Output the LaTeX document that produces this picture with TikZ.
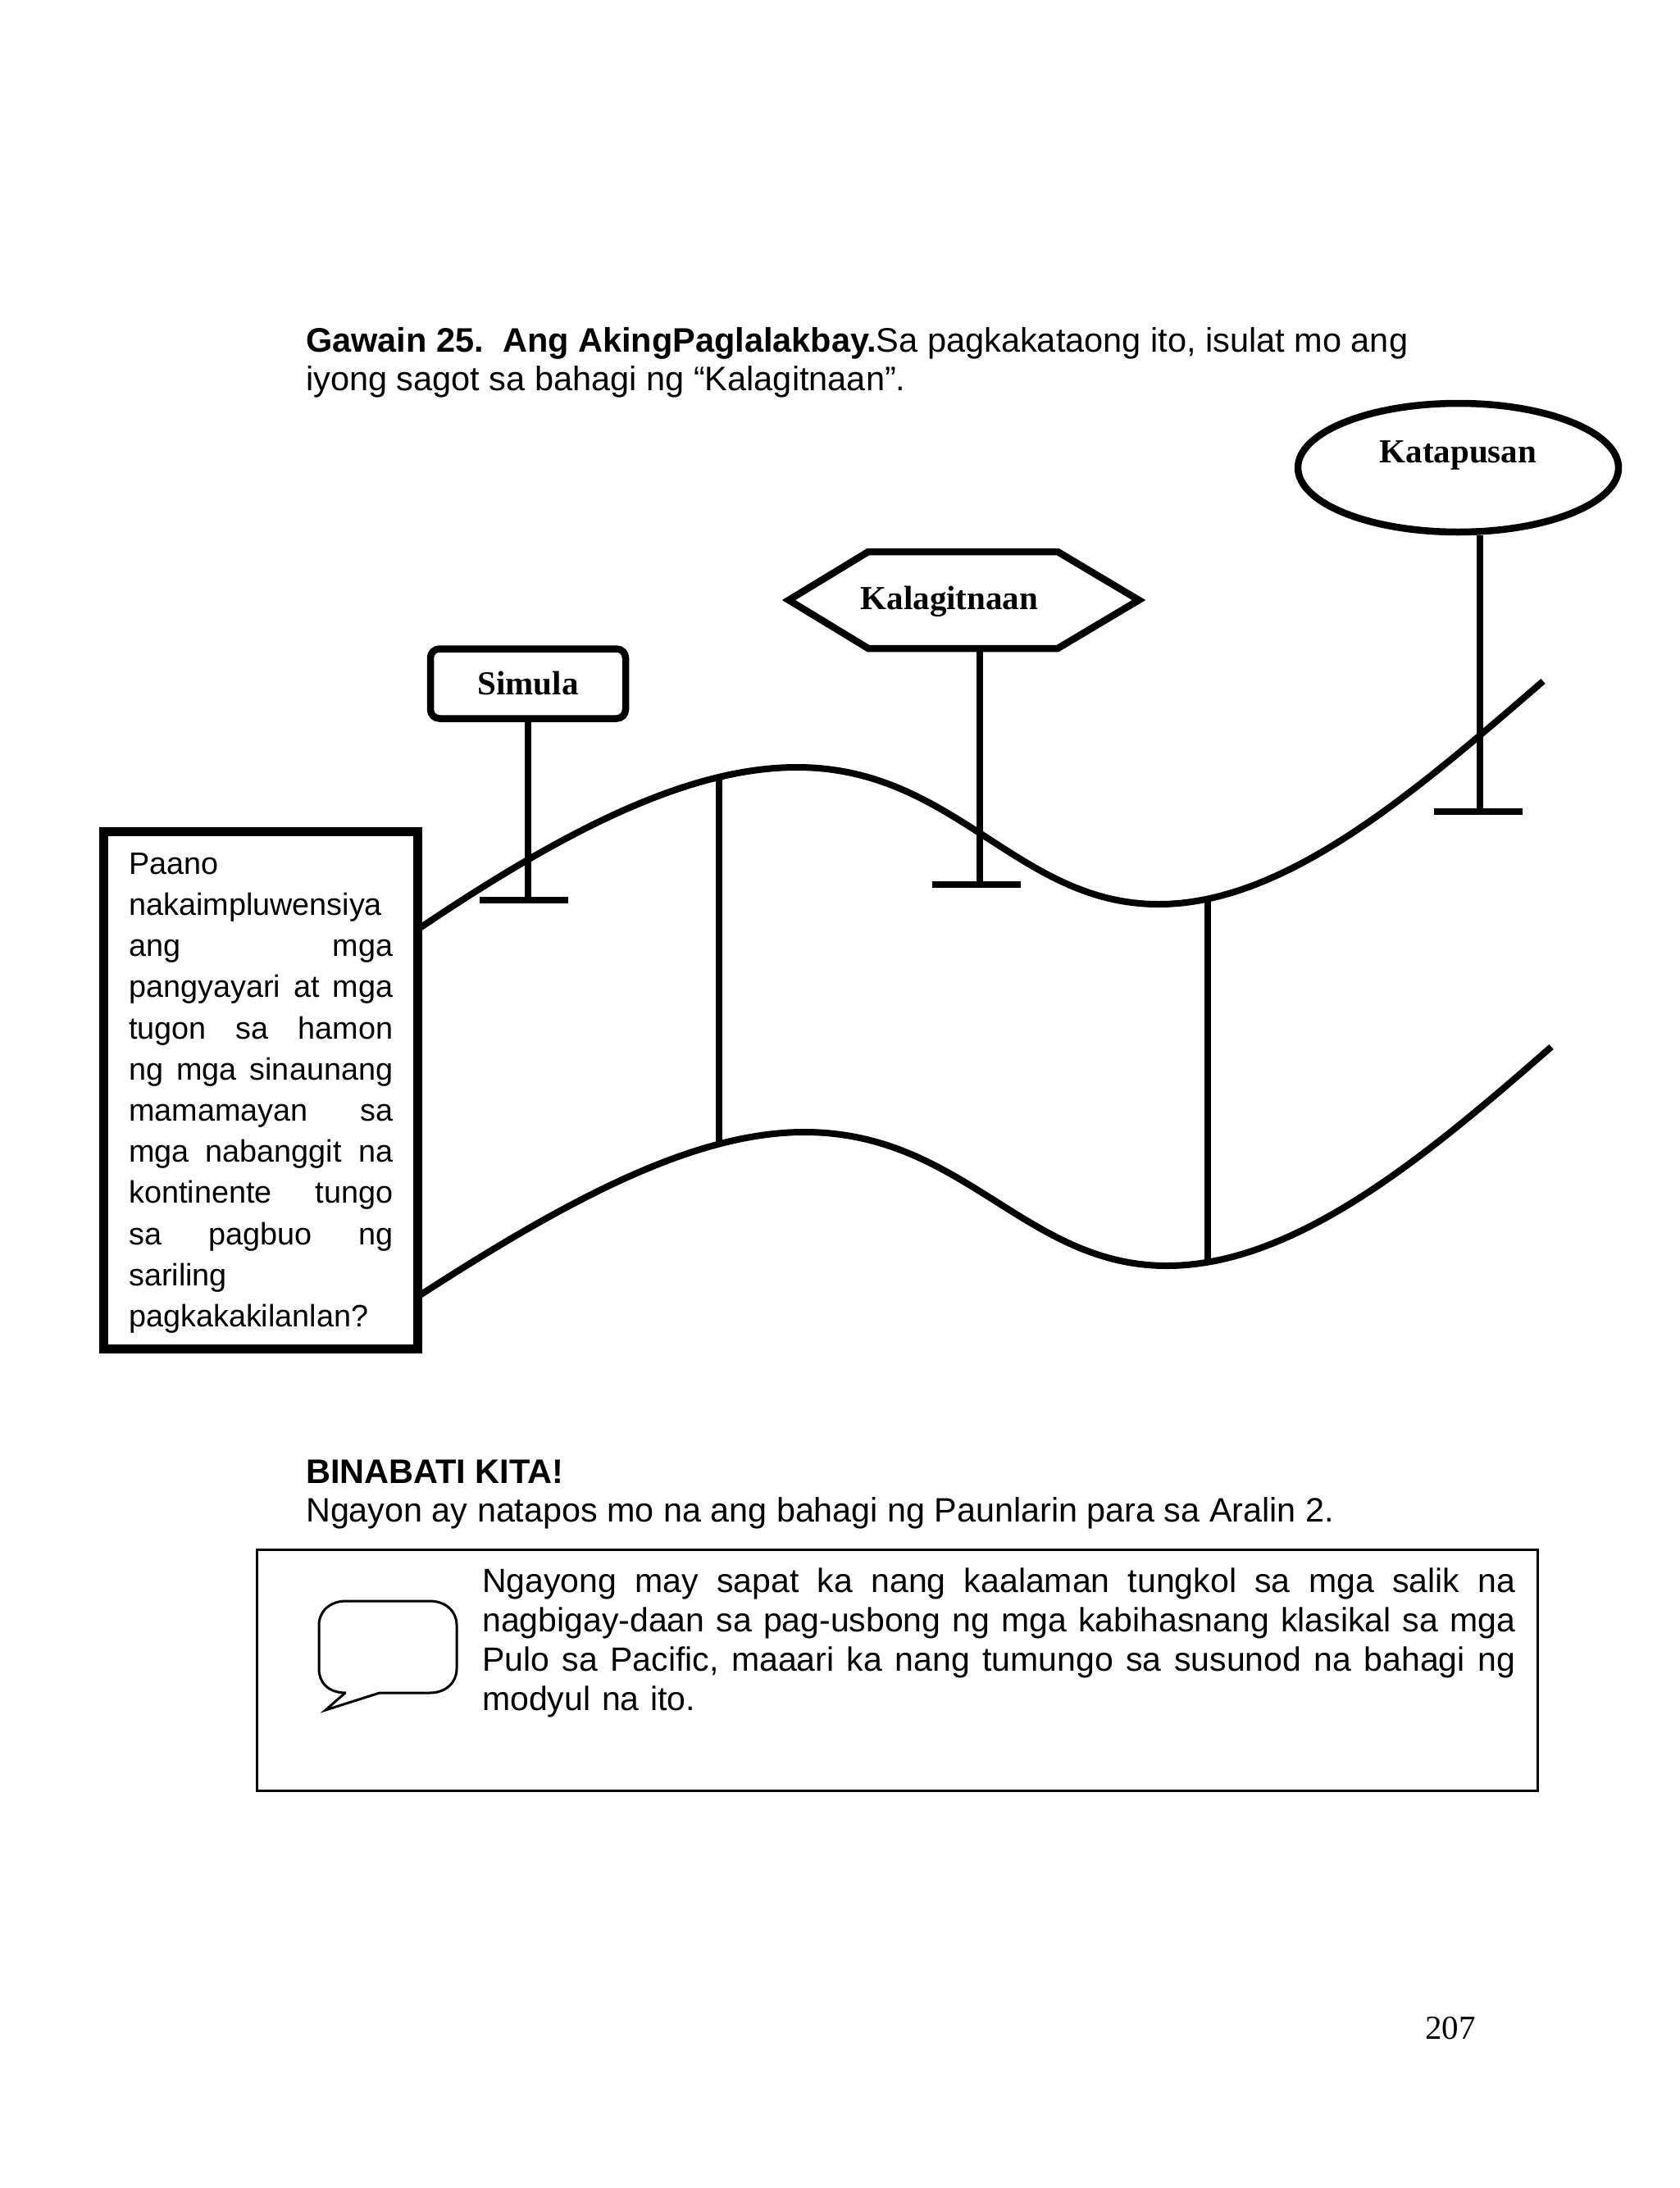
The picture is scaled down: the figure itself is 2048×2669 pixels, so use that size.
\documentclass[tikz,border=0pt]{standalone}
\usepackage{fontspec}
\setmainfont{Liberation Sans}
\newfontfamily\serifbold[BoldFont=Liberation Serif Bold]{Liberation Serif}
\usetikzlibrary{shapes.geometric}
\tikzset{
  body/.style={font=\fontsize{41.5}{48}\selectfont, inner sep=0pt, anchor=base west},
  signlabel/.style={font=\fontsize{41}{46}\selectfont\serifbold\bfseries, inner sep=0pt},
  heavy/.style={line width=8.5pt, draw=black},
  post/.style={line width=7.5pt, draw=black},
  thin/.style={line width=3pt, draw=black},
  road/.style={line width=8pt, draw=black, line cap=butt},
}
\begin{document}
\begin{tikzpicture}[x=1pt,y=-1pt]
\useasboundingbox (0,0) rectangle (2048,2669);
\fill[white] (0,0) rectangle (2048,2669);

% heading
\node[body] (t1) at (373,429.5) {\textbf{Gawain 25.\ \ Ang AkingPaglalakbay.}Sa pagkakataong ito, isulat mo ang};
\node[body] (t2) at (373,476.5) {iyong sagot sa bahagi ng “Kalagitnaan”.};

% free ends
\coordinate (a0) at (512,1132);
\coordinate (a1) at (972,936);
\coordinate (a2) at (1413,1103);
\coordinate (a3) at (1882,831);
\coordinate (b0) at (512,1580);
\coordinate (b1) at (981,1381);
\coordinate (b2) at (1423,1544);
\coordinate (b3) at (1892,1277);

% road
\draw[road] (a0) .. controls (690,1012) and (840,936) .. (a1)
  .. controls (1165,936) and (1240,1103) .. (a2)
  .. controls (1570,1103) and (1730,962) .. (a3);
\draw[road] (b0) .. controls (690,1465) and (845,1381) .. (b1)
  .. controls (1175,1381) and (1250,1544) .. (b2)
  .. controls (1580,1544) and (1740,1410) .. (b3);
\coordinate (v1a) at (877,950);
\coordinate (v1b) at (877,1396);
\coordinate (v2a) at (1473,1098);
\coordinate (v2b) at (1473,1541);
\draw[post] (v1a) -- (v1b);
\draw[post] (v2a) -- (v2b);

% question box
\node[draw=black, line width=11pt, fill=white, minimum width=383pt, minimum height=631pt, inner sep=0pt] (q) at (317.5,1329.5) {};
\node[font=\fontsize{37.8}{50.2}\selectfont, text width=322pt, align=left, inner sep=0pt, anchor=north west] (qtext) at (157,1040) {%
Paano\\
nakaimpluwensiya\\
ang\hfill mga\\
pangyayari\hfill at\hfill mga\\
tugon\hfill sa\hfill hamon\\
ng\hfill mga\hfill sinaunang\\
mamamayan\hfill sa\\
mga\hfill nabanggit\hfill na\\
kontinente\hfill tungo\\
sa\hfill pagbuo\hfill ng\\
sariling\\
pagkakakilanlan?};

% Simula sign
\node[draw=black, line width=8.5pt, rounded corners=11pt, fill=white, minimum width=238pt, minimum height=85pt, inner sep=0pt, signlabel] (sim) at (644,834) {\raisebox{-5pt}{Simula}};
\coordinate (s1) at (644,1098);
\coordinate (s2) at (585,1098);
\coordinate (s3) at (693,1098);
\draw[post] (sim.south -| s1) -- (s1);
\draw[post] (s2) -- (s3);

% Kalagitnaan sign
\coordinate (hl) at (962,732);
\coordinate (htl) at (1059,673);
\coordinate (htr) at (1290,673);
\coordinate (hr) at (1389,732);
\coordinate (hbr) at (1290,791);
\coordinate (hbl) at (1059,791);
\draw[heavy, line join=miter] (hl) -- (htl) -- (htr) -- (hr) -- (hbr) -- (hbl) -- cycle;
\node[signlabel] (hex) at (1158,734) {Kalagitnaan};
\coordinate (k1) at (1195,1079);
\coordinate (k2) at (1137,1079);
\coordinate (k3) at (1245,1079);
\draw[post] (k1 |- hbl) -- (k1);
\draw[post] (k2) -- (k3);

% Katapusan sign
\node[ellipse, draw=black, line width=8.5pt, fill=white, minimum width=391pt, minimum height=157pt, inner sep=0pt,
      label={[signlabel, yshift=15pt]center:Katapusan}] (kat) at (1778.5,570.5) {};
\coordinate (e1) at (1805,990);
\coordinate (e2) at (1749,990);
\coordinate (e3) at (1857,990);
\draw[post] (e1 |- kat.south) -- (e1);
\draw[post] (e2) -- (e3);

% lower text
\node[body] (b1t) at (373,1809) {\textbf{BINABATI KITA!}};
\node[body] (b2t) at (373,1856) {\fontsize{41.3}{48}\selectfont Ngayon ay natapos mo na ang bahagi ng Paunlarin para sa Aralin 2.};

\node[thin, draw, minimum width=1562pt, minimum height=294pt, inner sep=0pt] (note) at (1094,2037) {};
\draw[thin, line join=miter]
  (422,2065) .. controls (400,2065) and (389,2052) .. (389,2036)
  -- (389,1982) .. controls (389,1966) and (402,1953) .. (422,1953)
  -- (524,1953) .. controls (544,1953) and (557,1966) .. (557,1982)
  -- (557,2036) .. controls (557,2052) and (544,2065) .. (524,2065)
  -- (463,2065) -- (397,2086) -- (421,2065);
\node[font=\fontsize{41}{47.7}\selectfont, text width=1260pt, align=left, inner sep=0pt, anchor=north west] (notetext) at (588,1913) {%
Ngayong\hfill may\hfill sapat\hfill ka\hfill nang\hfill kaalaman\hfill tungkol\hfill sa\hfill mga\hfill salik\hfill na\\
nagbigay-daan\hfill sa\hfill pag-usbong\hfill ng\hfill mga\hfill kabihasnang\hfill klasikal\hfill sa\hfill mga\\
Pulo\hfill sa\hfill Pacific,\hfill maaari\hfill ka\hfill nang\hfill tumungo\hfill sa\hfill susunod\hfill na\hfill bahagi\hfill ng\\
modyul na ito.};

\node[font=\fontsize{41}{48}\selectfont\serifbold, inner sep=0pt, anchor=base] (pg) at (1769,2487) {207};
\end{tikzpicture}
\end{document}
